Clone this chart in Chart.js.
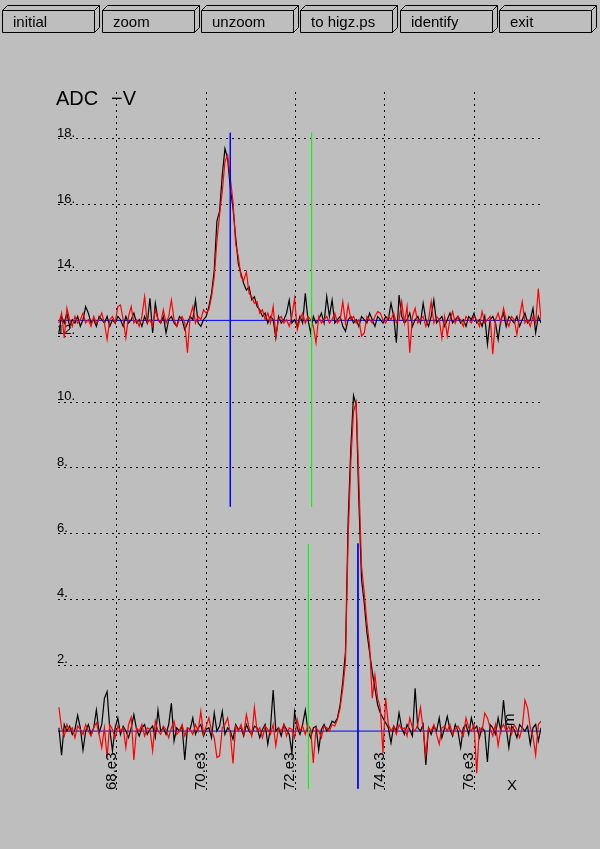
<!DOCTYPE html>
<html><head><meta charset="utf-8">
<script src="https://cdn.jsdelivr.net/npm/chart.js@4.4.1/dist/chart.umd.min.js"></script>
<style>
html,body{margin:0;padding:0;background:#bebebe;width:600px;height:849px;overflow:hidden}
#wrap{position:relative;width:600px;height:849px}
#c{position:absolute;left:0;top:0}
#btns{position:absolute;left:0;top:0}
</style></head><body>
<div id="wrap"><canvas id="c" width="600" height="849"></canvas>
<svg id="btns" width="600" height="40" xmlns="http://www.w3.org/2000/svg"></svg></div>
<script>
// ---- data ----
const buttonLabels = ['initial','zoom','unzoom','to higz.ps','identify','exit'];
const buttonLeft = [2,102,201,300,400,499];

const xMin = 66680, xMax = 77500;
const yMin = -1.79, yMax = 19.42;
const sampleStart = 66700, sampleStep = 60;

const xTicks = [68000, 70000, 72000, 74000, 76000];
const xTickLabels = ['68.e3', '70.e3', '72.e3', '74.e3', '76.e3'];
const yTicks = [2, 4, 6, 8, 10, 12, 14, 16, 18];
const yTickLabels = ['2.', '4.', '6.', '8.', '10.', '12.', '14.', '16.', '18.'];

const upperBlack = [
12.1,12.6,12.4,12.7,12.3,12.5,12.4,12.6,12.3,12.5,
12.9,12.7,12.4,12.5,12.3,12.6,12.5,12.4,12.6,12.3,
12.5,12.4,12.6,12.5,12.3,12.6,12.4,12.5,12.7,12.4,
12.5,12.3,12.6,12.4,13.15,12.1,13.0,12.5,12.4,12.6,
12.1,12.5,12.6,12.4,12.3,12.6,12.5,12.2,12.4,12.6,
12.5,13.1,12.4,12.3,12.5,
12.6,12.9,13.3,14.0,15.5,15.8,16.9,17.7,17.4,16.5,15.9,15.0,14.2,13.9,13.6,13.4,13.5,13.1,13.2,12.9,12.8,12.6,12.7,12.4,12.6,
12.5,11.95,12.6,12.4,12.5,12.7,13.1,12.4,12.5,12.3,
12.6,12.4,13.3,12.5,12.1,12.6,12.4,12.5,12.7,12.4,
13.2,12.6,13.1,12.4,12.5,12.6,12.3,12.15,12.5,12.6,
12.4,12.5,12.3,12.6,12.5,12.4,12.7,12.5,12.3,12.6,
12.5,12.4,12.6,12.5,13.0,12.6,11.8,13.25,12.6,12.4,
12.5,12.7,12.3,12.5,12.6,12.4,13.0,12.5,12.3,12.6,
13.1,12.4,12.5,12.6,12.3,12.5,12.7,12.4,12.5,12.6,
12.4,12.5,12.3,12.6,12.5,12.7,12.4,12.5,12.3,12.6,
11.75,12.5,12.6,12.4,11.9,12.5,12.7,12.3,12.6,12.5,
12.4,12.6,12.3,12.5,12.7,12.4,12.5,12.85,12.1,12.6,12.4
];
const upperRed = [
12.4,12.7,11.95,12.85,12.5,12.3,12.6,12.4,12.5,12.7,
12.4,12.5,12.3,12.6,12.4,12.5,12.7,12.4,11.9,12.5,
12.6,12.4,12.9,12.95,12.5,11.95,12.6,12.9,12.4,12.5,
12.3,12.6,13.2,12.4,12.5,12.3,12.8,12.5,12.4,12.8,
12.4,12.6,13.1,12.5,12.3,12.5,12.6,12.4,11.5,12.6,
12.9,12.4,12.6,12.5,12.8,
12.7,12.8,13.2,13.8,14.9,15.7,16.4,17.3,17.5,16.8,16.1,14.8,14.4,13.8,13.7,13.95,13.3,13.2,13.0,13.05,12.7,12.8,12.5,12.7,12.4,
12.9,12.0,12.5,12.6,12.4,12.5,12.3,12.6,13.15,12.2,
12.5,12.7,12.4,12.6,12.5,12.3,11.8,12.6,12.4,12.5,
12.6,12.4,12.5,12.7,12.4,12.5,13.05,12.4,12.95,12.5,
12.6,12.4,12.5,12.0,12.1,12.6,12.5,12.4,12.6,12.75,
12.7,12.5,12.4,12.6,12.5,12.7,12.4,12.5,13.05,12.4,
12.9,11.5,12.6,12.85,12.4,12.5,12.6,12.3,12.5,13.05,
12.4,12.6,12.5,11.95,12.6,12.0,12.5,12.75,12.4,12.6,
12.5,12.3,12.6,12.5,12.4,12.6,12.5,12.3,12.75,12.4,
12.5,12.6,11.45,12.5,12.7,12.4,12.85,12.5,12.3,12.6,
12.5,12.05,12.6,13.05,12.4,12.5,12.3,12.6,12.4,13.45,12.5
];
const lowerBlack = [
0.1,-0.73,0.2,0.0,0.15,-0.1,0.05,0.48,0.1,-0.58,
0.0,0.2,-0.1,0.1,0.64,-0.05,0.2,1.0,1.2,0.05,
-0.6,0.1,0.4,-0.1,0.15,0.0,-0.2,0.1,0.5,0.05,
-0.15,0.1,0.2,-0.1,0.05,0.15,-0.2,0.64,0.0,0.1,
-0.1,0.2,0.85,-0.3,0.1,0.0,0.15,-0.88,0.1,0.05,
0.4,-0.1,0.1,0.2,-0.15,0.05,0.1,-0.2,0.55,0.0,
0.15,0.6,-0.1,0.1,0.0,-0.25,0.2,0.05,0.1,-0.15,
0.2,0.0,-0.1,0.15,0.1,-0.2,0.05,0.2,-0.4,0.1,
1.25,0.0,0.1,-0.15,0.2,0.05,-0.1,-0.67,0.58,0.1,
-0.1,0.2,0.64,0.0,-0.2,0.1,0.15,-0.58,0.05,0.2,
0.0,0.1,0.3,0.25,0.4,0.8,1.5,2.4,6.4,8.6,
10.2,9.9,7.0,4.6,3.9,3.0,2.4,1.8,1.3,0.8,
0.55,0.4,0.25,0.1,-0.36,0.15,0.0,0.55,0.1,-0.1,
0.2,0.05,-0.15,1.3,0.1,0.0,0.2,-1.03,0.1,-0.1,
0.15,0.0,0.4,-0.2,0.1,0.45,0.05,-0.15,0.2,0.0,
-0.5,0.1,0.2,-0.1,0.4,0.05,0.15,-0.2,0.1,0.0,
-0.94,0.2,0.1,-0.1,0.4,0.0,0.94,0.1,-0.5,0.15,
0.05,-0.2,0.2,0.1,0.0,0.15,-0.4,0.1,0.2,-0.3,0.1
];
const lowerRed = [
0.72,0.1,-0.15,0.2,0.0,0.1,-0.2,0.15,0.05,-0.1,
0.2,0.0,-0.15,0.1,0.25,-0.1,-0.5,0.1,-0.8,0.2,
0.05,-0.2,0.15,0.0,0.1,-0.5,0.2,0.42,-0.88,0.1,
0.0,0.2,-0.15,0.1,0.05,-0.6,0.3,0.0,-0.1,0.15,
0.05,-0.2,0.1,0.3,-0.1,0.0,0.2,-0.15,0.1,0.05,
-0.1,0.2,0.0,0.6,-0.1,0.15,0.4,0.0,-0.2,-0.8,
-0.75,0.1,0.2,0.4,-0.1,-0.98,0.15,0.0,0.2,-0.1,
0.5,0.1,-0.15,0.72,0.0,0.1,-0.2,0.15,0.05,-0.1,
0.2,-0.45,0.1,0.0,0.2,-0.15,0.1,0.05,-0.2,0.35,
0.0,0.15,-0.1,0.2,0.05,-0.97,0.1,0.0,-0.2,0.15,
0.1,0.0,0.2,0.15,0.35,0.7,1.3,2.1,5.9,8.2,
9.7,10.0,7.6,5.0,4.2,3.3,2.6,1.0,1.7,1.0,
0.7,-0.67,1.0,0.2,0.0,0.15,-0.1,0.2,0.05,0.1,
-0.15,0.4,0.1,0.0,0.2,0.72,0.05,-0.73,0.1,0.0,
0.2,-0.1,-0.4,0.1,0.15,0.0,0.2,-0.1,0.05,0.15,
0.0,-0.15,0.4,0.1,0.0,0.2,-1.28,0.1,0.0,0.55,
0.4,0.1,-0.15,0.2,-0.45,0.05,0.2,0.0,0.15,-0.1,
0.2,0.05,-0.2,0.1,0.94,0.7,0.1,-0.15,-0.73,0.2,0.3
];

// cursor lines: [upper blue, upper green, lower blue, lower green]
const cursorX = [70540, 72360, 73400, 72290];
const cursorTop = [18.18, 18.18, 5.70, 5.68];
const cursorBottom = [6.82, 6.82, -1.75, -1.75];
const baselineY = [12.48, 0];

// ---- buttons ----
const svg = document.getElementById('btns');
const NS = 'http://www.w3.org/2000/svg';
buttonLabels.forEach((t, k) => {
  const x = buttonLeft[k] + 0.5;
  const p = document.createElementNS(NS, 'path');
  p.setAttribute('d',
    `M${x},10.5 H${x+92} V32.5 H${x} Z ` +
    `M${x},10.5 L${x+5},5.5 H${x+97} L${x+92},10.5 ` +
    `M${x+97},5.5 V27.5 L${x+92},32.5`);
  p.setAttribute('fill', 'none');
  p.setAttribute('stroke', '#000');
  p.setAttribute('stroke-width', '1');
  svg.appendChild(p);
  const tx = document.createElementNS(NS, 'text');
  tx.setAttribute('x', buttonLeft[k] + 11);
  tx.setAttribute('y', 27);
  tx.setAttribute('font-family', 'Liberation Sans, Arial, sans-serif');
  tx.setAttribute('font-size', '15');
  tx.setAttribute('fill', '#000');
  tx.textContent = t;
  svg.appendChild(tx);
});

// ---- chart ----
const toPts = arr => arr.map((v, i) => ({x: sampleStart + i * sampleStep, y: v}));
const vline = k => [{x: cursorX[k], y: cursorTop[k]}, {x: cursorX[k], y: cursorBottom[k]}];
const hline = v => [{x: xMin, y: v}, {x: xMax, y: v}];

const base = {pointRadius: 0, borderWidth: 1, tension: 0, fill: false};
const trace = {...base, borderWidth: 1.2};
const datasets = [
  {...base, label: 'cursor upper green', data: vline(1), borderColor: '#00ff00', order: 0},
  {...base, label: 'cursor lower green', data: vline(3), borderColor: '#00ff00', order: 0},
  {...base, label: 'cursor upper blue', data: vline(0), borderColor: '#0000ff', order: 1},
  {...base, label: 'cursor lower blue', data: vline(2), borderColor: '#0000ff', order: 1},
  {...trace, label: 'upper red', data: toPts(upperRed), borderColor: '#ff0000', order: 2},
  {...trace, label: 'lower red', data: toPts(lowerRed), borderColor: '#ff0000', order: 2},
  {...trace, label: 'upper black', data: toPts(upperBlack), borderColor: '#000000', order: 3},
  {...trace, label: 'lower black', data: toPts(lowerBlack), borderColor: '#000000', order: 3},
  {...base, label: 'baseline upper', data: hline(baselineY[0]), borderColor: '#0000ff', order: 4},
  {...base, label: 'baseline lower', data: hline(baselineY[1]), borderColor: '#0000ff', order: 4}
];

const FONT = '"Liberation Sans", Arial, sans-serif';
const labelPlugin = {
  id: 'higzLabels',
  beforeDatasetsDraw(chart) {
    const {ctx, chartArea} = chart;
    const y = chart.scales.y;
    ctx.save();
    ctx.fillStyle = '#000';
    ctx.font = '13px ' + FONT;
    ctx.textAlign = 'left';
    ctx.textBaseline = 'alphabetic';
    yTicks.forEach((v, k) => ctx.fillText(yTickLabels[k], chartArea.left - 1, y.getPixelForValue(v) - 2));
    ctx.restore();
  },
  afterDraw(chart) {
    const {ctx, chartArea} = chart;
    const x = chart.scales.x;
    ctx.save();
    ctx.fillStyle = '#000';
    ctx.textBaseline = 'alphabetic';
    ctx.font = '15px ' + FONT;
    xTicks.forEach((v, k) => {
      const px = Math.round(x.getPixelForValue(v));
      ctx.save();
      ctx.translate(px - 1.5, chartArea.bottom);
      ctx.rotate(-Math.PI / 2);
      ctx.textAlign = 'left';
      ctx.fillText(xTickLabels[k], 0, 0);
      ctx.restore();
    });
    ctx.textAlign = 'center';
    ctx.fillText('X', chartArea.right - 29, chartArea.bottom);
    ctx.save();
    ctx.translate(chartArea.right - 27.5, chartArea.bottom - 64);
    ctx.rotate(-Math.PI / 2);
    ctx.textAlign = 'left';
    ctx.fillText('m', 0, 0);
    ctx.restore();
    ctx.textAlign = 'left';
    ctx.font = '20px ' + FONT;
    ctx.fillText('ADC', chartArea.left - 2, chartArea.top + 13);
    ctx.fillText('\u2212V', chartArea.left + 53, chartArea.top + 13);
    ctx.restore();
  }
};

new Chart(document.getElementById('c'), {
  type: 'line',
  data: {datasets},
  options: {
    responsive: false,
    animation: false,
    events: [],
    layout: {padding: {left: 58, right: 59, top: 92, bottom: 59}},
    plugins: {legend: {display: false}, tooltip: {enabled: false}, title: {display: false}},
    scales: {
      x: {
        type: 'linear', min: xMin, max: xMax,
        afterBuildTicks: s => { s.ticks = xTicks.map(v => ({value: v})); },
        ticks: {display: false},
        grid: {color: '#000', lineWidth: 1, drawTicks: false},
        border: {display: false, dash: [2, 4]}
      },
      y: {
        type: 'linear', min: yMin, max: yMax,
        afterBuildTicks: s => { s.ticks = yTicks.map(v => ({value: v})); },
        ticks: {display: false},
        grid: {color: '#000', lineWidth: 1, drawTicks: false},
        border: {display: false, dash: [2, 4]}
      }
    }
  },
  plugins: [labelPlugin]
});
</script></body></html>
